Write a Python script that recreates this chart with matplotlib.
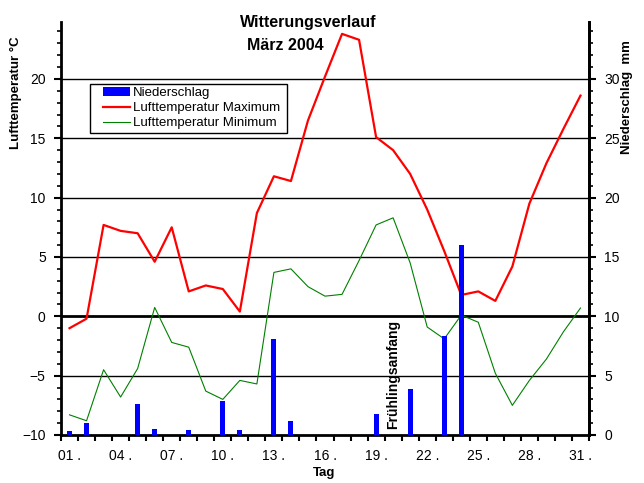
import numpy as np
import matplotlib
matplotlib.use("Agg")
import matplotlib.pyplot as plt
from matplotlib.patches import Rectangle
from matplotlib.ticker import MultipleLocator, FixedLocator

plt.rcParams['font.family'] = ['Liberation Sans', 'DejaVu Sans']

# Tage im Maerz 2004
days = list(range(1, 32))

# Lufttemperatur Maximum / Minimum in Grad C
t_max = [-1.0, -0.2, 7.7, 7.2, 7.0, 4.6, 7.5, 2.1, 2.6, 2.3,
         0.4, 8.7, 11.8, 11.4, 16.5, 20.2, 23.8, 23.3, 15.1, 14.0,
         12.0, 9.0, 5.5, 1.8, 2.1, 1.3, 4.2, 9.5, 12.9, 15.8, 18.6]
t_min = [-8.3, -8.8, -4.5, -6.8, -4.4, 0.75, -2.2, -2.6, -6.3, -7.0,
         -5.4, -5.7, 3.7, 4.0, 2.5, 1.7, 1.85, 4.7, 7.7, 8.3,
         4.5, -0.9, -1.9, 0.1, -0.5, -4.8, -7.5, -5.4, -3.6, -1.3, 0.7]

# Niederschlag in mm
rain_days = [1, 2, 5, 6, 8, 10, 11, 13, 14, 19, 21, 23, 24]
rain_mm = [0.3, 1.0, 2.6, 0.5, 0.45, 2.9, 0.4, 8.1, 1.2, 1.8, 3.9, 8.3, 16.0]

tick_days = [1, 4, 7, 10, 13, 16, 19, 22, 25, 28, 31]
tick_labels = ["%02d ." % d for d in tick_days]

fig = plt.figure(figsize=(6.44, 4.83), dpi=100)
ax = fig.add_axes([61 / 644, 1 - 435 / 483, (589 - 61) / 644, (435 - 22) / 483])

ax.set_xlim(0.5, 31.5)
ax.set_ylim(-10, 24.8)

# Gitterlinien
for v in [-5, 5, 10, 15, 20]:
    ax.axhline(v, color='black', lw=1, zorder=1)
ax.axhline(0, color='black', lw=2, zorder=1)

ax.plot(days, t_max, color='#ff0000', lw=1.6, zorder=3, label='Lufttemperatur Maximum')
ax.plot(days, t_min, color='#008000', lw=0.8, zorder=3, label='Lufttemperatur Minimum')

ax.set_xticks(tick_days)
ax.set_xticklabels(tick_labels, fontsize=10)
ax.xaxis.set_minor_locator(FixedLocator(np.arange(0.5, 32, 1)))
ax.tick_params(axis='x', which='major', length=0, pad=10)
ax.tick_params(axis='x', which='minor', length=4, width=1.5, direction='out')

ax.yaxis.set_major_locator(FixedLocator([-10, -5, 0, 5, 10, 15, 20]))
ax.yaxis.set_minor_locator(MultipleLocator(1))
ax.tick_params(axis='y', which='major', length=5, width=1.5, labelsize=10, pad=6)
ax.tick_params(axis='y', which='minor', length=3, width=1.2)

ax.spines['top'].set_visible(False)
for s in ['left', 'right', 'bottom']:
    ax.spines[s].set_linewidth(2)

# Niederschlag auf rechter Achse
ax2 = ax.twinx()
ax2.set_ylim(0, 34.8)
ax2.bar(rain_days, rain_mm, width=0.3, color='#0000ff', zorder=4, label='Niederschlag')
ax2.yaxis.set_major_locator(FixedLocator([0, 5, 10, 15, 20, 25, 30]))
ax2.yaxis.set_minor_locator(MultipleLocator(1))
ax2.tick_params(axis='y', which='major', length=5, width=1.5, labelsize=10, pad=6)
ax2.tick_params(axis='y', which='minor', length=3, width=1.2)
ax2.spines['top'].set_visible(False)
ax2.spines['right'].set_linewidth(2)
ax2.spines['left'].set_visible(False)
ax2.spines['bottom'].set_visible(False)

ax2.text(20, -9.5 + 10, "Frühlingsanfang", rotation=90, ha='center', va='bottom',
         fontsize=10, fontweight='bold', zorder=5)

# Legende: eigener Rahmen, Eintraege ohne Rahmen
ax2.add_patch(Rectangle((90 / 644, 1 - 133 / 483), 197 / 644, 49 / 483,
                        transform=fig.transFigure, facecolor='white',
                        edgecolor='black', lw=1, zorder=4.5, clip_on=False))
h1, l1 = ax2.get_legend_handles_labels()
h2, l2 = ax.get_legend_handles_labels()
leg = ax2.legend(h1 + h2, l1 + l2, loc='upper left',
                 bbox_to_anchor=(103 / 644, 1 - 87 / 483), bbox_transform=fig.transFigure,
                 fontsize=9.5, frameon=False, handlelength=2.05, handleheight=0.6,
                 borderpad=0, labelspacing=0.24, handletextpad=0.25, borderaxespad=0)
leg.set_zorder(6)

fig.text(308 / 644, 1 - 23 / 483, "Witterungsverlauf", ha='center', va='center',
         fontsize=11.5, fontweight='bold')
fig.text(285 / 644, 1 - 45 / 483, "März 2004", ha='center', va='center',
         fontsize=11.5, fontweight='bold')
fig.text(16 / 644, 1 - 93 / 483, "Lufttemperatur °C", rotation=90, ha='center', va='center',
         fontsize=9.5, fontweight='bold')
fig.text(627 / 644, 1 - 97 / 483, "Niederschlag  mm", rotation=90, ha='center', va='center',
         fontsize=9.5, fontweight='bold')
fig.text(324 / 644, 1 - 473 / 483, "Tag", ha='center', va='center',
         fontsize=9.5, fontweight='bold')

fig.savefig("out.png", dpi=100)
